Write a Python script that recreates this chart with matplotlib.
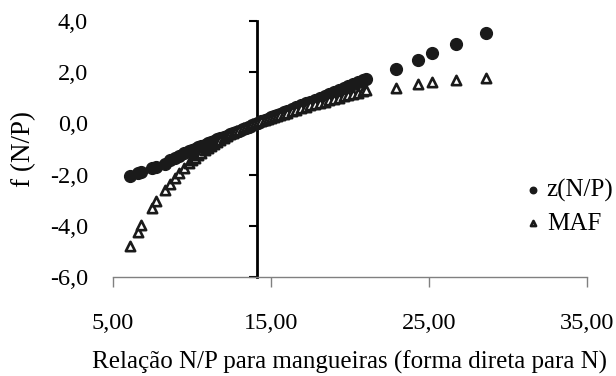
import matplotlib.pyplot as plt

# relação N/P (eixo x) e as duas funções
np_ratio = [6.1, 6.6, 6.8, 7.5, 7.7, 8.3, 8.6, 8.9, 9.2, 9.5, 9.8, 10.0, 10.2, 10.4,
            10.6, 10.8, 11.0, 11.2, 11.4, 11.6, 11.8, 12.0, 12.2, 12.4, 12.6, 12.8,
            13.0, 13.2, 13.4, 13.6, 13.8, 14.0, 14.2, 14.4, 14.6, 14.8, 15.0, 15.2,
            15.4, 15.6, 15.8, 16.0, 16.3, 16.6, 16.9, 17.2, 17.5, 17.8, 18.1, 18.4,
            18.7, 19.0, 19.3, 19.6, 19.9, 20.2, 20.5, 20.8, 21.0, 22.9, 24.3, 25.2,
            26.7, 28.6]

z_np = [-2.05, -1.95, -1.90, -1.75, -1.70, -1.58, -1.45, -1.35, -1.26, -1.17, -1.09,
        -1.04, -0.99, -0.94, -0.89, -0.84, -0.78, -0.73, -0.68, -0.63, -0.58, -0.53,
        -0.48, -0.43, -0.38, -0.33, -0.28, -0.23, -0.18, -0.13, -0.08, -0.03, 0.03,
        0.08, 0.13, 0.18, 0.23, 0.28, 0.33, 0.38, 0.43, 0.48, 0.55, 0.63, 0.70, 0.78,
        0.85, 0.93, 1.00, 1.08, 1.15, 1.23, 1.30, 1.38, 1.45, 1.53, 1.60, 1.68, 1.72,
        2.12, 2.48, 2.75, 3.10, 3.53]

maf = [-4.80, -4.25, -3.95, -3.30, -3.05, -2.60, -2.35, -2.15, -1.95, -1.75, -1.55,
       -1.45, -1.35, -1.25, -1.15, -1.05, -0.97, -0.88, -0.80, -0.72, -0.64, -0.57,
       -0.50, -0.43, -0.37, -0.31, -0.25, -0.19, -0.14, -0.09, -0.04, 0.00, 0.04,
       0.09, 0.13, 0.17, 0.21, 0.25, 0.29, 0.33, 0.37, 0.41, 0.47, 0.53, 0.59, 0.64,
       0.70, 0.75, 0.80, 0.85, 0.90, 0.95, 1.00, 1.05, 1.10, 1.15, 1.20, 1.25, 1.30,
       1.38, 1.52, 1.60, 1.69, 1.78]

x_ticks = [5, 15, 25, 35]
y_ticks = [-6, -4, -2, 0, 2, 4]

plt.rcParams['font.family'] = ['Liberation Serif', 'DejaVu Serif']

fig = plt.figure(figsize=(6.16, 3.76), dpi=100)
ax = fig.add_axes([0.1834, 0.2633, 0.7695, 0.681])

ax.scatter(np_ratio, z_np, s=72, color='#1a1a1a', marker='o', label='z(N/P)', zorder=3)
ax.scatter(np_ratio, maf, s=45, facecolor='white', edgecolor='#1a1a1a', linewidth=1.9,
           marker='^', label='MAF', zorder=4)

ax.set_xlim(5, 35)
ax.set_ylim(-6, 4)
ax.set_xticks(x_ticks)
ax.set_yticks(y_ticks)
# virgula decimal
ax.set_xticklabels([('%.2f' % v).replace('.', ',') for v in x_ticks])
ax.set_yticklabels([('%.1f' % v).replace('.', ',') for v in y_ticks])

for s in ['top', 'right', 'left']:
    ax.spines[s].set_visible(False)
ax.spines['bottom'].set_color('#808080')
ax.spines['bottom'].set_linewidth(1.0)

ax.tick_params(axis='x', direction='out', length=7, width=1.0, color='#808080',
               labelsize=17.5, pad=19)
ax.tick_params(axis='y', length=0, labelsize=17.5, pad=18)

# eixo y cruzando em x = 14,1
sec = ax.secondary_yaxis((14.1 - 5) / 30)
sec.set_yticks(y_ticks)
sec.tick_params(axis='y', direction='out', length=6, width=1.5, labelleft=False,
                labelright=False)
sec.spines['left'].set_linewidth(2)

ax.set_xlabel('Relação N/P para mangueiras (forma direta para N)', fontsize=18, labelpad=12)
ax.set_ylabel('f (N/P)', fontsize=19.5, labelpad=10)

ax.legend(loc='center left', bbox_to_anchor=(0.847, 0.449), bbox_transform=fig.transFigure,
          frameon=False, fontsize=18, markerscale=0.55, handlelength=0.9,
          handletextpad=0.1, borderaxespad=0, borderpad=0, labelspacing=0.4)

plt.savefig('out.png', dpi=100)
